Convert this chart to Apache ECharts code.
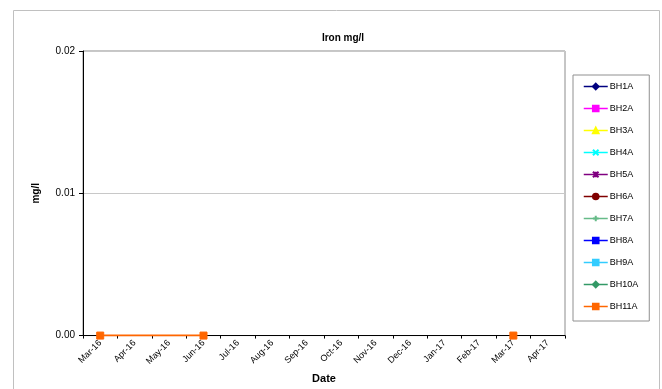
<!DOCTYPE html>
<html>
<head>
<meta charset="utf-8">
<script src="https://cdn.jsdelivr.net/npm/echarts@6/dist/echarts.min.js"></script>
<style>
  html, body { margin: 0; padding: 0; background: #fff; }
  #chart { width: 662px; height: 389px; }
</style>
</head>
<body>
<div id="chart"></div>
<script>
// Monthly sampling calendar (category axis)
const months = ['Mar-16', 'Apr-16', 'May-16', 'Jun-16', 'Jul-16', 'Aug-16', 'Sep-16',
                'Oct-16', 'Nov-16', 'Dec-16', 'Jan-17', 'Feb-17', 'Mar-17', 'Apr-17'];

// Y axis ticks (mg/l)
const yTicks = [0, 0.01, 0.02];

// Boreholes shown in the legend
const boreholes = ['BH1A', 'BH2A', 'BH3A', 'BH4A', 'BH5A', 'BH6A',
                   'BH7A', 'BH8A', 'BH9A', 'BH10A', 'BH11A'];

// Iron results for BH11A; a null value leaves a gap in the line
const bh11aDates  = ['Mar-16', 'Jun-16', 'Jun-16', 'Mar-17'];
const bh11aValues = [0, 0, null, 0];

// Results for the other boreholes (none recorded)
const bh1aValues = [];
const bh2aValues = [];
const bh3aValues = [];
const bh4aValues = [];
const bh5aValues = [];
const bh6aValues = [];
const bh7aValues = [];
const bh8aValues = [];
const bh9aValues = [];
const bh10aValues = [];

const otherValues = [bh1aValues, bh2aValues, bh3aValues, bh4aValues, bh5aValues,
                     bh6aValues, bh7aValues, bh8aValues, bh9aValues, bh10aValues];

// Series styling: colour, marker
const styles = [
  { color: '#000080', symbol: 'diamond', size: 6 },
  { color: '#FF00FF', symbol: 'rect', size: 6 },
  { color: '#FFFF00', symbol: 'triangle', size: 6 },
  { color: '#00FFFF', symbol: 'path://M0,0 L10,10 M10,0 L0,10', size: 6 },
  { color: '#800080', symbol: 'path://M0,0 L10,10 M10,0 L0,10 M5,0 L5,10', size: 6 },
  { color: '#800000', symbol: 'circle', size: 5 },
  { color: '#66BB88', symbol: 'path://M5,0 L5,10 M0,5 L10,5', size: 6 },
  { color: '#0000FF', symbol: 'rect', size: 3 },
  { color: '#33CCFF', symbol: 'path://M0,4 L10,4 L10,6 L0,6 Z', size: 6 },
  { color: '#339966', symbol: 'diamond', size: 6 },
  { color: '#FF6600', symbol: 'rect', size: 7 }
];

const series = boreholes.map(function (name, i) {
  let data;
  if (i === boreholes.length - 1) {
    data = bh11aDates.map(function (d, k) {
      return [d, bh11aValues[k] === null ? '-' : bh11aValues[k]];
    });
  } else {
    data = otherValues[i];
  }
  const s = styles[i];
  return {
    name: name,
    type: 'line',
    data: data,
    symbol: s.symbol,
    symbolSize: s.size,
    showAllSymbol: true,
    connectNulls: false,
    animation: false,
    itemStyle: { color: s.color, borderColor: s.color, borderWidth: 1 },
    lineStyle: { color: s.color, width: 2 },
    z: 2 + i
  };
});

const chart = echarts.init(document.getElementById('chart'), null, { renderer: 'canvas' });

const font = 'Liberation Sans, Arial, sans-serif';

chart.setOption({
  backgroundColor: '#ffffff',
  animation: false,
  title: {
    text: 'Iron mg/l',
    left: 338,
    top: 28,
    textAlign: 'center',
    textStyle: { fontFamily: font, fontSize: 10, fontWeight: 'bold', color: '#000' }
  },
  graphic: [{
    type: 'rect',
    shape: { x: 13.5, y: 10.5, width: 646, height: 390 },
    style: { fill: 'none', stroke: '#c0c0c0', lineWidth: 1 },
    silent: true,
    z: -10
  }],
  legend: {
    orient: 'vertical',
    left: 573,
    top: 75,
    padding: [6, 11, 9, 10],
    itemGap: 11,
    itemWidth: 24,
    itemHeight: 7,
    borderColor: '#909090',
    borderWidth: 1,
    backgroundColor: '#fff',
    lineStyle: { width: 1.5 },
    textStyle: { fontFamily: font, fontSize: 9, color: '#000', lineHeight: 11, padding: [0, 0, 0, -3] },
    data: boreholes
  },
  grid: {
    left: 83,
    right: 97,
    top: 51,
    bottom: 47,
    show: true,
    borderColor: '#8c8c8c',
    borderWidth: 1,
    backgroundColor: '#fff',
    containLabel: false
  },
  xAxis: {
    type: 'category',
    data: months,
    boundaryGap: true,
    name: 'Date',
    nameLocation: 'middle',
    nameGap: 22,
    nameTextStyle: { fontFamily: font, fontSize: 11, fontWeight: 'bold', color: '#000' },
    axisLine: { lineStyle: { color: '#000', width: 1 } },
    axisTick: { show: true, alignWithLabel: false, length: 3, lineStyle: { color: '#000' } },
    axisLabel: {
      interval: 0,
      rotate: 45,
      margin: 6,
      fontFamily: font,
      fontSize: 9,
      color: '#000'
    },
    splitLine: { show: false }
  },
  yAxis: {
    type: 'value',
    min: yTicks[0],
    max: yTicks[yTicks.length - 1],
    interval: yTicks[1] - yTicks[0],
    name: 'mg/l',
    nameLocation: 'middle',
    nameGap: 42,
    nameRotate: 90,
    nameTextStyle: { fontFamily: font, fontSize: 10, fontWeight: 'bold', color: '#000' },
    axisLine: { show: true, lineStyle: { color: '#000', width: 1 } },
    axisTick: { show: true, length: 4, lineStyle: { color: '#000' } },
    axisLabel: {
      margin: 8,
      fontFamily: font,
      fontSize: 10,
      color: '#000',
      formatter: function (v) { return v.toFixed(2); }
    },
    splitLine: { show: true, lineStyle: { color: '#c8c8c8', width: 1 } }
  },
  series: series
});
</script>
</body>
</html>
